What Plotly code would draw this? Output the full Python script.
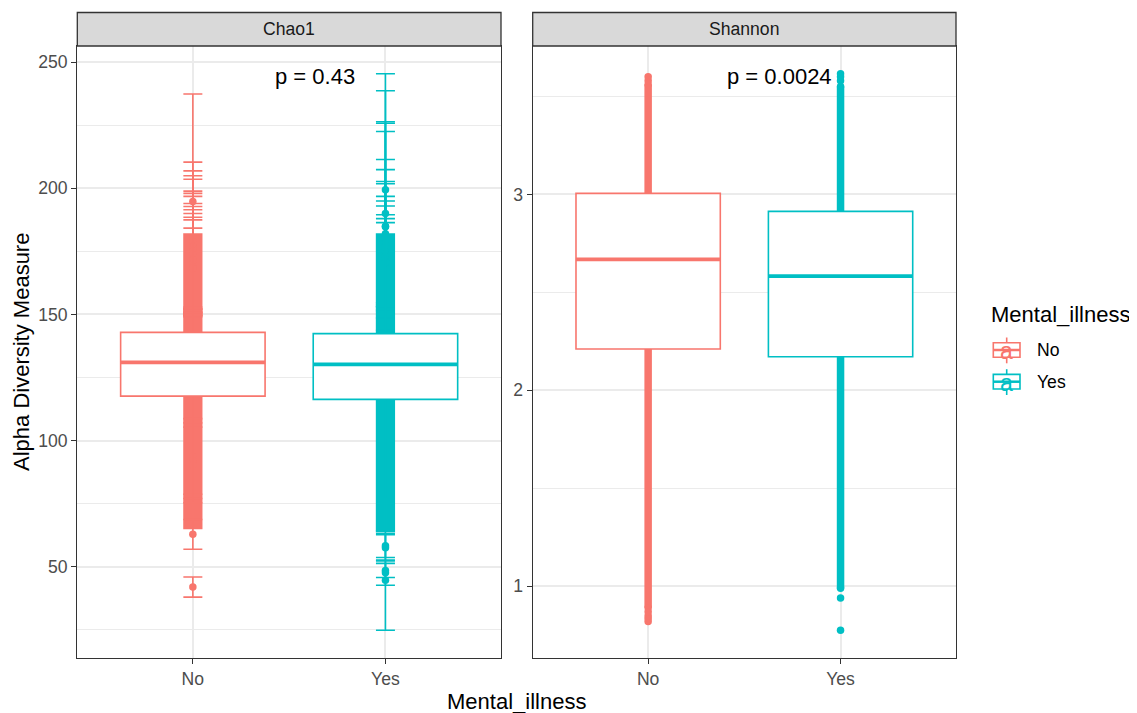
import plotly.graph_objects as go

# ---------------- data ----------------
groups = ["No", "Yes"]
colors = {"No": "#F8766D", "Yes": "#00BFC4"}
facets = ["Chao1", "Shannon"]
p_labels = {"Chao1": "p = 0.43", "Shannon": "p = 0.0024"}

# Box summaries (q1, median, q3, lower whisker, upper whisker)
chao1_q1 = [117.6, 116.3]
chao1_median = [131.0, 130.2]
chao1_q3 = [142.9, 142.4]
chao1_lower = [79.0, 77.2]
chao1_upper = [181.8, 181.1]

shannon_q1 = [2.211, 2.171]
shannon_median = [2.668, 2.583]
shannon_q3 = [3.005, 2.913]
shannon_lower = [1.03, 1.055]
shannon_upper = [3.60, 3.615]

# Chao1: span of densely overlapping samples (error-bar column)
chao1_dense_no = [64.8, 182.2]
chao1_dense_yes = [63.5, 182.2]

# Chao1: individually visible samples (estimate, standard error)
chao1_no_values = [194.8, 180.4, 178.9, 177.0, 176.6, 175.9, 175.0, 173.8, 172.0, 171.8,
                   171.5, 170.0, 169.0, 168.5, 168.2, 93.7, 92.0, 90.3, 62.8, 41.9]
chao1_no_se = [42.6, 30.0, 28.0, 28.0, 27.0, 23.0, 23.0, 23.0, 22.0, 21.0,
               20.0, 20.0, 19.5, 19.0, 16.0, 15.0, 15.0, 15.0, 5.9, 4.0]
chao1_yes_values = [199.4, 190.0, 185.0, 184.8, 182.0, 180.0, 178.0, 177.0, 176.8, 175.0,
                    174.0, 173.0, 172.0, 171.0, 170.6, 58.3, 57.5, 48.5, 47.6, 44.6]
chao1_yes_se = [46.0, 48.7, 41.4, 41.0, 40.5, 31.4, 29.4, 25.7, 25.0, 21.8,
                21.0, 20.0, 17.5, 17.0, 15.8, 4.7, 5.2, 2.8, 5.0, 19.8]

# Shannon: span of densely overlapping sample points, plus isolated points
shannon_dense_no = [0.89, 3.56]
shannon_dense_yes = [0.99, 3.55]
shannon_no_points = [0.82, 0.835, 0.85, 0.87, 3.58, 3.60]
shannon_yes_points = [0.776, 0.94, 3.58, 3.60, 3.615]

# ---------------- geometry ----------------
# the page body has an 8px margin, so the figure is placed 8px in from the top-left
OFF = 8
W, H = 1137 - OFF, 713 - OFF
def px(x):
    return (x - OFF) / W
def py(y):
    return 1 - (y - OFF) / H

FONT = "Liberation Sans, Arial, sans-serif"
BOX_W = 0.75
EB_W = 0.1
PT = 7.5

ydom = [py(658), py(46)]
xdoms = [[px(77.3), px(501)], [px(532.7), px(956)]]

def expand(lo, hi, f=0.05):
    d = (hi - lo) * f
    return [lo - d, hi + d]

chao_lo = min([v - s for v, s in zip(chao1_no_values + chao1_yes_values, chao1_no_se + chao1_yes_se)])
chao_hi = max([v + s for v, s in zip(chao1_no_values + chao1_yes_values, chao1_no_se + chao1_yes_se)])
chao_range = expand(chao_lo, chao_hi)
sh_all = shannon_no_points + shannon_yes_points + shannon_dense_no + shannon_dense_yes
sh_range = expand(min(sh_all), max(sh_all))
x_range = [-0.6, 1.6]

fig = go.Figure()

# ---------- Chao1 panel (base layer) ----------
dense_chao = [chao1_dense_no, chao1_dense_yes]
vals_chao = [chao1_no_values, chao1_yes_values]
se_chao = [chao1_no_se, chao1_yes_se]
for i, g in enumerate(groups):
    lo, hi = dense_chao[i]
    fig.add_trace(go.Bar(x=[i], y=[hi - lo], base=[lo], width=EB_W,
                         marker=dict(color=colors[g], line=dict(width=0)),
                         xaxis="x", yaxis="y", showlegend=False, hoverinfo="skip"))
for i, g in enumerate(groups):
    fig.add_trace(go.Scatter(x=[i] * len(vals_chao[i]), y=vals_chao[i], mode="markers",
                             marker=dict(size=PT, color=colors[g], line=dict(width=0)),
                             error_y=dict(type="data", array=se_chao[i], symmetric=True,
                                          width=9.5, thickness=1.6, color=colors[g]),
                             xaxis="x", yaxis="y", showlegend=False, hoverinfo="skip"))

# ---------- Shannon panel (base layer) ----------
dense_sh = [shannon_dense_no, shannon_dense_yes]
pts_sh = [shannon_no_points, shannon_yes_points]
for i, g in enumerate(groups):
    fig.add_trace(go.Scatter(x=[i, i], y=dense_sh[i], mode="lines+markers",
                             line=dict(color=colors[g], width=PT),
                             marker=dict(size=PT, color=colors[g], line=dict(width=0)),
                             xaxis="x2", yaxis="y2", showlegend=False, hoverinfo="skip"))
    fig.add_trace(go.Scatter(x=[i] * len(pts_sh[i]), y=pts_sh[i], mode="markers",
                             marker=dict(size=PT, color=colors[g], line=dict(width=0)),
                             xaxis="x2", yaxis="y2", showlegend=False, hoverinfo="skip"))

# ---------- boxes (overlay layer, drawn above points) ----------
box_sets = [
    ("x3", "y3", chao1_q1, chao1_median, chao1_q3, chao1_lower, chao1_upper),
    ("x4", "y4", shannon_q1, shannon_median, shannon_q3, shannon_lower, shannon_upper),
]
for xa, ya, q1, med, q3, lf, uf in box_sets:
    for i, g in enumerate(groups):
        fig.add_trace(go.Box(x=[i], q1=[q1[i]], median=[med[i]], q3=[q3[i]],
                             lowerfence=[lf[i]], upperfence=[uf[i]],
                             width=BOX_W, whiskerwidth=0, boxpoints=False,
                             fillcolor="white", line=dict(color=colors[g], width=1.6),
                             xaxis=xa, yaxis=ya, showlegend=False, hoverinfo="skip"))
        fig.add_trace(go.Scatter(x=[i - BOX_W / 2, i + BOX_W / 2], y=[med[i], med[i]],
                                 mode="lines", line=dict(color=colors[g], width=3.8),
                                 xaxis=xa, yaxis=ya, showlegend=False, hoverinfo="skip"))

# ---------- axes ----------
def xaxis_cfg(dom, anchor):
    return dict(domain=dom, range=x_range, tickvals=[0, 1], ticktext=groups,
                showgrid=True, gridcolor="#EBEBEB", gridwidth=1.5, zeroline=False,
                showline=True, mirror=True, linecolor="#333333", linewidth=1.3,
                ticks="outside", ticklen=5, tickwidth=1.3, tickcolor="#333333",
                tickfont=dict(family=FONT, size=17.6, color="#4D4D4D"),
                anchor=anchor, fixedrange=True)

def yaxis_cfg(rng, dtick, minor, anchor):
    return dict(domain=ydom, range=rng, tick0=0, dtick=dtick,
                showgrid=True, gridcolor="#EBEBEB", gridwidth=1.5, zeroline=False,
                minor=dict(tick0=0, dtick=minor, showgrid=True, gridcolor="#EBEBEB", gridwidth=0.8),
                showline=True, mirror=True, linecolor="#333333", linewidth=1.3,
                ticks="outside", ticklen=5, tickwidth=1.3, tickcolor="#333333",
                tickfont=dict(family=FONT, size=17.6, color="#4D4D4D"),
                anchor=anchor, fixedrange=True)

fig.update_layout(
    width=W, height=H, margin=dict(l=0, r=0, t=0, b=0),
    paper_bgcolor="white", plot_bgcolor="white",
    barmode="overlay", boxmode="overlay", showlegend=False,
    xaxis=xaxis_cfg(xdoms[0], "y"),
    yaxis=yaxis_cfg(chao_range, 50, 25, "x"),
    xaxis2=xaxis_cfg(xdoms[1], "y2"),
    yaxis2=yaxis_cfg(sh_range, 1, 0.5, "x2"),
    xaxis3=dict(overlaying="x", range=x_range, visible=False, anchor="y3", fixedrange=True),
    yaxis3=dict(overlaying="y", range=chao_range, visible=False, anchor="x3", fixedrange=True),
    xaxis4=dict(overlaying="x2", range=x_range, visible=False, anchor="y4", fixedrange=True),
    yaxis4=dict(overlaying="y2", range=sh_range, visible=False, anchor="x4", fixedrange=True),
)

shapes = []
annotations = []

# strips
for k, f in enumerate(facets):
    shapes.append(dict(type="rect", xref="paper", yref="paper",
                       x0=xdoms[k][0], x1=xdoms[k][1], y0=py(46), y1=py(12.5),
                       fillcolor="#D9D9D9", line=dict(color="#333333", width=1.3), layer="above"))
    annotations.append(dict(text=f, xref="paper", yref="paper",
                            x=(xdoms[k][0] + xdoms[k][1]) / 2, y=py(29.3),
                            xanchor="center", yanchor="middle", showarrow=False,
                            font=dict(family=FONT, size=17.6, color="#1A1A1A")))

# p-value labels
for k, (f, xr, xv) in enumerate([("Chao1", "x", 0.418), ("Shannon", "x2", 0.397)]):
    annotations.append(dict(text=p_labels[f], xref=xr, yref="paper",
                            x=xv, y=py(76), xanchor="left", yanchor="middle",
                            showarrow=False, font=dict(family=FONT, size=22, color="black")))

# axis titles
annotations.append(dict(text="Alpha Diversity Measure", xref="paper", yref="paper",
                        x=px(21), y=py(352), textangle=-90, xanchor="center", yanchor="middle",
                        showarrow=False, font=dict(family=FONT, size=22, color="black")))
annotations.append(dict(text="Mental_illness", xref="paper", yref="paper",
                        x=px(516.5), y=py(701.5), xanchor="center", yanchor="middle",
                        showarrow=False, font=dict(family=FONT, size=22, color="black")))

# legend
annotations.append(dict(text="Mental_illness", xref="paper", yref="paper",
                        x=px(989), y=py(314), xanchor="left", yanchor="middle",
                        showarrow=False, font=dict(family=FONT, size=22, color="black")))
for g, cy in zip(groups, [350, 381.7]):
    c = colors[g]
    shapes.append(dict(type="line", xref="paper", yref="paper",
                       x0=px(1006.7), x1=px(1006.7), y0=py(cy - 12.5), y1=py(cy + 13.3),
                       line=dict(color=c, width=1.6)))
    shapes.append(dict(type="rect", xref="paper", yref="paper",
                       x0=px(993.3), x1=px(1020), y0=py(cy + 7.3), y1=py(cy - 7.3),
                       fillcolor="white", line=dict(color=c, width=1.6)))
    shapes.append(dict(type="line", xref="paper", yref="paper",
                       x0=px(993.3), x1=px(1020), y0=py(cy), y1=py(cy),
                       line=dict(color=c, width=2.5)))
    annotations.append(dict(text="a", xref="paper", yref="paper",
                            x=px(1006.7), y=py(cy + 1), xanchor="center", yanchor="middle",
                            showarrow=False, font=dict(family=FONT, size=23, color=c)))
    annotations.append(dict(text=g, xref="paper", yref="paper",
                            x=px(1035), y=py(cy), xanchor="left", yanchor="middle",
                            showarrow=False, font=dict(family=FONT, size=17.6, color="black")))

fig.update_layout(shapes=shapes, annotations=annotations)
fig.write_html("out.html")
